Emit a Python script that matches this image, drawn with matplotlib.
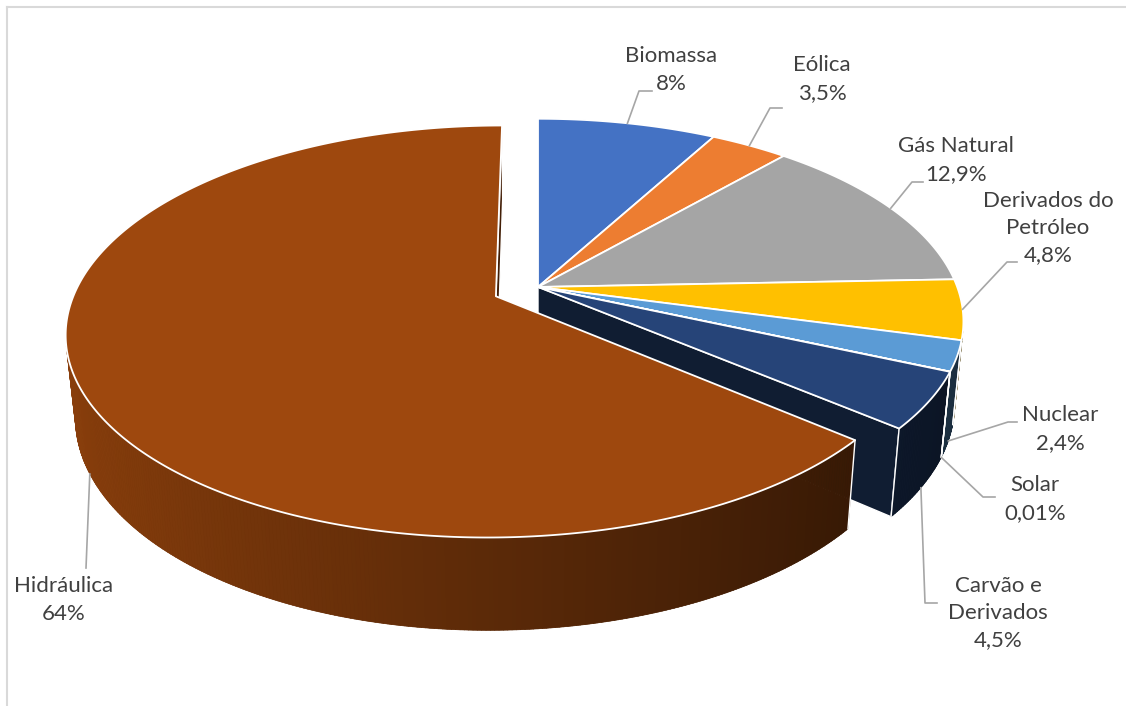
import numpy as np
import matplotlib.pyplot as plt
from matplotlib.patches import Polygon
from matplotlib.colors import to_rgb

plt.rcParams['font.family'] = ['Lato', 'DejaVu Sans']

fontes = ['Biomassa', 'Eólica', 'Gás Natural', 'Derivados do\nPetróleo', 'Nuclear',
          'Solar', 'Carvão e\nDerivados', 'Hidráulica']
valores = [8, 3.5, 12.9, 4.8, 2.4, 0.01, 4.5, 64]
cores = ['#4472C4', '#ED7D31', '#A5A5A5', '#FFC000', '#5B9BD5', '#70AD47', '#264478', '#9E480E']
destaque = [0, 0, 0, 0, 0, 0, 0, 0.11]

# posição dos rótulos e das linhas guia (em pixels)
rot_xy = [(671, 70), (822, 79), (956, 160), (1048, 228), (1060, 429), (1035, 499), (998, 613), (64, 600)]
cotovelo = [(639, 91), (770, 108), (912, 182), (1007, 262), (1008, 422), (983, 497), (925, 603), (86, 568)]
fim_guia = [(652, 91), (782, 108), (923, 182), (1017, 262), (1017, 422), (995, 497), (937, 603), (86, 568)]
na_parede = [False, False, False, False, True, True, True, True]

# projeção em perspectiva da pizza 3D
CX, CY = 538, 287
F, D = 2180, 5.2
TH = np.radians(28)
H = 0.225
cam = np.array([0, D * np.sin(TH), D * np.cos(TH)])


def proj(p):
    x, y, z = p
    d = D - z * np.cos(TH) - y * np.sin(TH)
    return CX + F * x / d, CY + F * (z * np.sin(TH) - y * np.cos(TH)) / d


def borda(phi, y, off):
    r = np.radians(phi)
    return np.array([np.sin(r) + off[0], y, -np.cos(r) + off[1]])


def escurece(c, k):
    return tuple(np.clip(np.array(to_rgb(c)) * k, 0, 1))


n = len(valores)
lim = np.concatenate([[0], np.cumsum(valores)]) / sum(valores) * 360
offs = []
for i in range(n):
    m = np.radians((lim[i] + lim[i + 1]) / 2)
    offs.append((destaque[i] * np.sin(m), -destaque[i] * np.cos(m)))

fig = plt.figure(figsize=(11.26, 7.06), dpi=100)
ax = fig.add_axes([0, 0, 1, 1])
ax.set_xlim(0, 1126)
ax.set_ylim(706, 0)
ax.axis('off')

# faces laterais (paredes e cortes radiais)
faces = []
arestas = []
for i in range(n):
    a0, a1 = lim[i], lim[i + 1]
    off = offs[i]
    ph = np.linspace(a0, a1, max(2, int(np.ceil((a1 - a0) * 2))) + 1)
    vis = []
    topo, base, cores_q, dists = [], [], [], []
    for p0, p1 in zip(ph[:-1], ph[1:]):
        pm = np.radians((p0 + p1) / 2)
        quad = [borda(p0, 0, off), borda(p1, 0, off), borda(p1, -H, off), borda(p0, -H, off)]
        cen = np.mean(quad, axis=0)
        nrm = np.array([np.sin(pm), 0, -np.cos(pm)])
        ok = nrm @ (cam - cen) > 0
        vis.append(ok)
        if ok:
            cor = escurece(cores[i], 0.58 - 0.3 * np.sin(pm))
            dist = np.linalg.norm(cam - cen)
            faces.append((dist, [proj(q) for q in quad], cor, cor, 0.5))
            topo += [proj(quad[0]), proj(quad[1])]
            base += [proj(quad[3]), proj(quad[2])]
            cores_q.append(cor)
            dists.append(dist)
    if topo:
        # fundo liso da parede para esconder as emendas entre as faixas
        faces.append((max(dists) + 1e-3, topo + base[::-1], tuple(np.mean(cores_q, axis=0)), 'none', 0))
    if vis[0]:
        arestas.append((a0, off))
    if vis[-1]:
        arestas.append((a1, off))

    c_top = np.array([off[0], 0, off[1]])
    c_bot = np.array([off[0], -H, off[1]])
    for ang, sinal, viz in ((a0, -1, (i - 1) % n), (a1, 1, (i + 1) % n)):
        if destaque[i] == 0 and destaque[viz] == 0:
            continue
        r = np.radians(ang + sinal * 90)
        nrm = np.array([np.sin(r), 0, -np.cos(r)])
        quad = [c_top, borda(ang, 0, off), borda(ang, -H, off), c_bot]
        cen = np.mean(quad, axis=0)
        if nrm @ (cam - cen) <= 0:
            continue
        faces.append((np.linalg.norm(cam - cen), [proj(q) for q in quad],
                      escurece(cores[i], 0.42), 'white', 1.0))

faces.sort(key=lambda f: -f[0])
for _, pts, cor, ec, lw in faces:
    ax.add_patch(Polygon(pts, closed=True, facecolor=cor, edgecolor=ec, lw=lw, joinstyle='round'))

for ang, off in arestas:
    p = [proj(borda(ang, 0, off)), proj(borda(ang, -H, off))]
    ax.plot([p[0][0], p[1][0]], [p[0][1], p[1][1]], color='white', lw=1.0)

# tampas das fatias
for i in range(n):
    off = offs[i]
    ph = np.linspace(lim[i], lim[i + 1], max(2, int(np.ceil((lim[i + 1] - lim[i]) * 2))) + 1)
    pts = [proj((off[0], 0, off[1]))] + [proj(borda(p, 0, off)) for p in ph]
    ax.add_patch(Polygon(pts, closed=True, facecolor=cores[i], edgecolor='white',
                         lw=1.3, joinstyle='round'))

# rótulos com linhas guia
for i in range(n):
    meio = (lim[i] + lim[i + 1]) / 2
    ancora = proj(borda(meio, -H if na_parede[i] else 0, offs[i]))
    xs = [ancora[0], cotovelo[i][0], fim_guia[i][0]]
    ys = [ancora[1], cotovelo[i][1], fim_guia[i][1]]
    ax.plot(xs, ys, color='#A6A6A6', lw=1.2)
    pct = f"{valores[i]:g}".replace('.', ',') + '%'
    ax.text(rot_xy[i][0], rot_xy[i][1], f"{fontes[i]}\n{pct}", ha='center', va='center',
            fontsize=16, color='#404040', linespacing=1.45)

# moldura da área do gráfico
ax.plot([7, 1126], [7, 7], color='#D9D9D9', lw=1.5)
ax.plot([7, 7], [7, 706], color='#D9D9D9', lw=1.5)

fig.savefig('out.png', dpi=100)
